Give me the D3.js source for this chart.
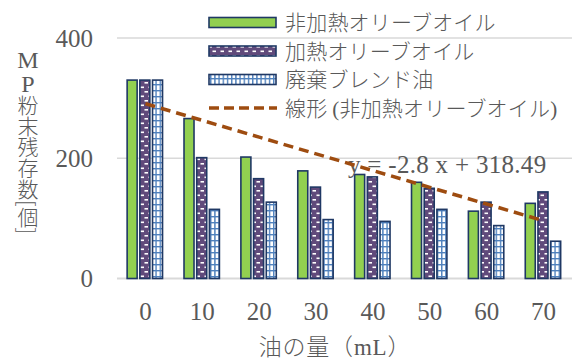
<!DOCTYPE html>
<html>
<head>
<meta charset="utf-8">
<script src="https://cdn.jsdelivr.net/npm/d3@7"></script>
<style>
  html, body { margin: 0; padding: 0; background: #fff; }
  svg { display: block; }
  .txt { fill: #595959; font-family: "Liberation Serif", "Noto Sans CJK JP", serif; font-weight: 300; }
  .jp { fill: #595959; font-family: "Noto Sans CJK JP", sans-serif; font-weight: 300; }
  .lat { font-family: "Liberation Serif", serif; }
</style>
</head>
<body>
<svg id="chart" width="573" height="363"></svg>
<script>
// Oil volume (mL) categories
const categories = ["0", "10", "20", "30", "40", "50", "60", "70"];
// Remaining MP powder counts per series
const unheatedOlive = [330, 266, 202, 179, 173, 160, 112, 125];
const heatedOlive   = [330, 201, 166, 152, 169, 150, 127, 144];
const wasteBlend    = [330, 115, 127, 98, 95, 115, 88, 62];
const seriesNames = ["非加熱オリーブオイル", "加熱オリーブオイル", "廃棄ブレンド油"];
const trendName = ["線形 ", "(", "非加熱オリーブオイル", ")"];
const trendLabel = "y = -2.8 x + 318.49";
const yTicks = [0, 200, 400];
const xTitle = ["油の量（", "mL", "）"];

const svg = d3.select("#chart");
const plot = { left: 117, right: 572, top: 38, bottom: 278.5 };

const x = d3.scaleBand().domain(categories).range([plot.left, plot.right]).padding(0);
const y = d3.scaleLinear().domain([0, 400]).range([plot.bottom, plot.top]);

// Fill patterns
const defs = svg.append("defs");
const dash = defs.append("pattern").attr("id", "pDash")
  .attr("patternUnits", "userSpaceOnUse").attr("width", 8).attr("height", 9);
dash.append("rect").attr("width", 8).attr("height", 9).attr("fill", "#604a7b");
dash.append("rect").attr("x", 0.5).attr("y", 1).attr("width", 3.5).attr("height", 1.6).attr("fill", "#fff");
dash.append("rect").attr("x", 4.5).attr("y", 5.5).attr("width", 3.5).attr("height", 1.6).attr("fill", "#fff");

const grid = defs.append("pattern").attr("id", "pGrid")
  .attr("patternUnits", "userSpaceOnUse").attr("width", 4.2).attr("height", 6);
grid.append("rect").attr("width", 4.2).attr("height", 6).attr("fill", "#fff");
grid.append("rect").attr("x", 0).attr("y", 0).attr("width", 1.4).attr("height", 6).attr("fill", "#4f81bd");
grid.append("rect").attr("x", 0).attr("y", 0).attr("width", 4.2).attr("height", 1.4).attr("fill", "#4f81bd");

const series = [
  { name: seriesNames[0], values: unheatedOlive, fill: "#92d050" },
  { name: seriesNames[1], values: heatedOlive, fill: "url(#pDash)" },
  { name: seriesNames[2], values: wasteBlend, fill: "url(#pGrid)" }
];
const outline = "#1f3864";
const trendColor = "#9e4c10";

// Gridlines
svg.append("g").selectAll("line").data(yTicks).join("line")
  .attr("x1", plot.left).attr("x2", plot.right)
  .attr("y1", d => y(d)).attr("y2", d => y(d))
  .attr("stroke", "#d9d9d9").attr("stroke-width", d => d === 0 ? 2 : 1.5);

// Y tick labels
svg.append("g").selectAll("text").data(yTicks).join("text")
  .attr("class", "txt")
  .attr("x", 93).attr("y", d => y(d))
  .attr("dy", "0.34em")
  .attr("text-anchor", "end")
  .attr("font-size", 25)
  .text(d => d);

// Bars
const barW = 10, step = 12.7;
series.forEach((s, i) => {
  svg.append("g").selectAll("rect").data(s.values).join("rect")
    .attr("x", (d, j) => x(categories[j]) + x.bandwidth() / 2 + (i - 1) * step - barW / 2 - 0.6)
    .attr("y", d => y(d))
    .attr("width", barW)
    .attr("height", d => y(0) - y(d))
    .attr("fill", s.fill)
    .attr("stroke", outline)
    .attr("stroke-width", 1.6);
});

// Trend equation (under the trend line)
svg.append("text").attr("class", "txt")
  .attr("x", 348).attr("y", 173)
  .attr("font-size", 25)
  .attr("letter-spacing", 0.3)
  .text(trendLabel);

// Linear trend of the unheated series (x = category index 1..n)
const idx = unheatedOlive.map((d, i) => i + 1);
const mx = d3.mean(idx), my = d3.mean(unheatedOlive);
const slope = d3.sum(idx, (v, i) => (v - mx) * (unheatedOlive[i] - my)) / d3.sum(idx, v => (v - mx) ** 2);
const intercept = my - slope * mx;
const trendPts = categories.map((c, i) => [x(c) + x.bandwidth() / 2, y(intercept + slope * (i + 1))]);
svg.append("path")
  .attr("d", d3.line()(trendPts))
  .attr("fill", "none")
  .attr("stroke", trendColor)
  .attr("stroke-width", 3.5)
  .attr("stroke-dasharray", "10,6");

// X tick labels
svg.append("g").selectAll("text").data(categories).join("text")
  .attr("class", "txt")
  .attr("x", d => x(d) + x.bandwidth() / 2)
  .attr("y", 320)
  .attr("text-anchor", "middle")
  .attr("font-size", 25)
  .text(d => d);

// X title
const xt = svg.append("text").attr("class", "jp")
  .attr("x", 335).attr("y", 355)
  .attr("text-anchor", "middle")
  .attr("font-size", 23)
  .attr("letter-spacing", 0.8);
xTitle.forEach((t, i) => xt.append("tspan").attr("class", i === 1 ? "lat" : null).text(t));

// Y title (vertical)
const yTitle = svg.append("g");
yTitle.append("text").attr("class", "txt").attr("x", 28).attr("y", 68)
  .attr("text-anchor", "middle").attr("font-size", 24).text("M");
yTitle.append("text").attr("class", "txt").attr("x", 28).attr("y", 92)
  .attr("text-anchor", "middle").attr("font-size", 24).text("P");
yTitle.append("text").attr("class", "jp")
  .attr("x", 28).attr("y", 95)
  .attr("font-size", 21)
  .style("writing-mode", "vertical-rl")
  .text("粉末残存数[個]");

// Legend
const lg = svg.append("g");
const rowY = [22.5, 51, 79.5, 108];
series.forEach((s, i) => {
  lg.append("rect")
    .attr("x", 209).attr("y", rowY[i] - 5)
    .attr("width", 67).attr("height", 10)
    .attr("fill", s.fill).attr("stroke", outline).attr("stroke-width", 1.6);
  lg.append("text").attr("class", "jp")
    .attr("x", 285).attr("y", rowY[i]).attr("dy", "0.36em")
    .attr("font-size", 21).attr("letter-spacing", 0.2)
    .text(s.name);
});
lg.append("line")
  .attr("x1", 209).attr("x2", 277)
  .attr("y1", rowY[3]).attr("y2", rowY[3])
  .attr("stroke", trendColor).attr("stroke-width", 3.5)
  .attr("stroke-dasharray", "10,5");
const tn = lg.append("text").attr("class", "jp")
  .attr("x", 285).attr("y", rowY[3]).attr("dy", "0.36em")
  .attr("font-size", 21).attr("letter-spacing", 0.2);
trendName.forEach((t, i) => tn.append("tspan").attr("class", (i === 1 || i === 3) ? "lat" : null).text(t));
</script>
</body>
</html>
